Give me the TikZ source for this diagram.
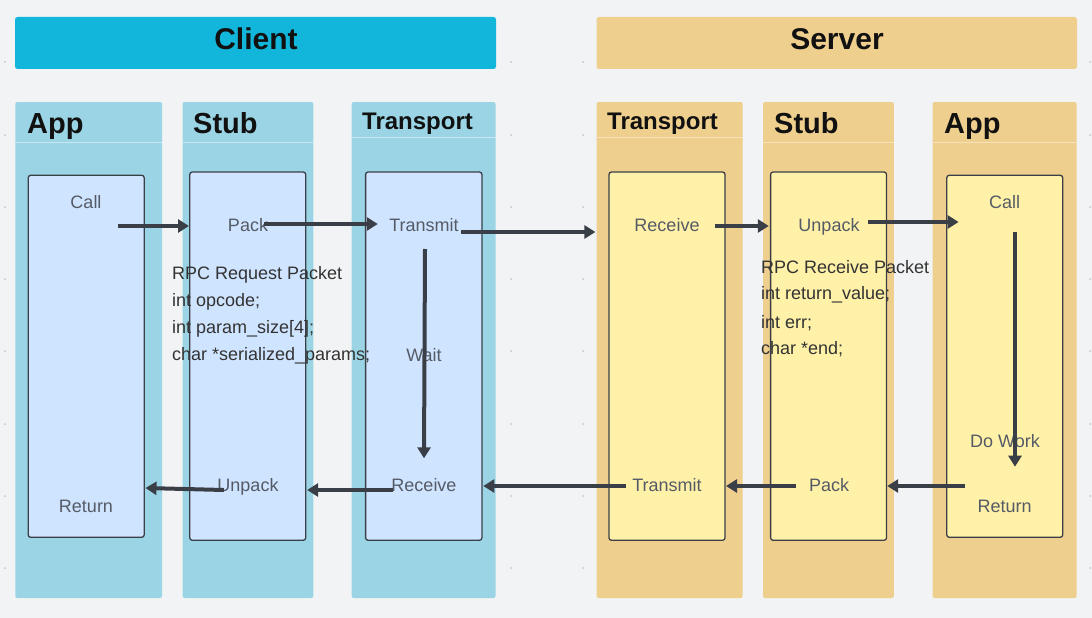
\documentclass[tikz,border=0pt]{standalone}
\usepackage{fontspec}
\setmainfont{Liberation Sans}
\usetikzlibrary{arrows.meta}
\definecolor{bg}{HTML}{F2F3F5}
\definecolor{chead}{HTML}{12B6DB}
\definecolor{clane}{HTML}{9BD5E5}
\definecolor{csep}{HTML}{C8E8F1}
\definecolor{cbox}{HTML}{CFE4FF}
\definecolor{shead}{HTML}{EFCF8E}
\definecolor{slane}{HTML}{EFCF8E}
\definecolor{ssep}{HTML}{F6E2BA}
\definecolor{sbox}{HTML}{FFF1A8}
\definecolor{boxline}{HTML}{3A3F47}
\definecolor{arrowc}{HTML}{3A3F47}
\definecolor{labelc}{HTML}{555B66}
\definecolor{codec}{HTML}{333333}
\definecolor{titlec}{HTML}{111111}
\definecolor{dotc}{HTML}{C3C7CD}
\begin{document}
\begin{tikzpicture}[x=1pt,y=-1pt,
  header/.style={rounded corners=2.5pt},
  lanebox/.style={rounded corners=2pt},
  sepline/.style={line width=1pt},
  innerbox/.style={draw=boxline,line width=1.3pt,rounded corners=2.5pt},
  htitle/.style={inner sep=0pt,anchor=base,text=titlec,font=\fontsize{30}{36}\selectfont\bfseries},
  ltitle/.style={inner sep=0pt,anchor=base west,text=titlec,font=\fontsize{29}{35}\selectfont\bfseries},
  ttitle/.style={inner sep=0pt,anchor=base west,text=titlec,font=\fontsize{24}{29}\selectfont\bfseries},
  lbl/.style={inner sep=0pt,anchor=base,text=labelc,font=\fontsize{18}{22}\selectfont},
  codeline/.style={inner sep=0pt,anchor=base west,text=codec,font=\fontsize{18}{22}\selectfont},
  flow/.style={draw=arrowc,line width=4pt,-{Triangle[length=11pt,width=13pt]}}
]
% background
\fill[bg] (0,0) rectangle (1092,618);
\useasboundingbox (0,0) rectangle (1092,618);
% grid dots
\foreach \gx in {5,511,583,1090}{
  \foreach \gy in {62,135,207,279,351,424,496,568}{
    \fill[dotc] (\gx,\gy) circle (1pt);
  }
}
% headers
\fill[chead,header] (15,17) rectangle (496,69);
\fill[shead,header] (596.5,17) rectangle (1077,69);
\node[htitle] (clienttitle) at (256,50) {Client};
\node[htitle] (servertitle) at (837,50) {Server};
% client lanes
\fill[clane,lanebox] (15.3,102) rectangle (162,598);
\fill[clane,lanebox] (182.5,102) rectangle (313.4,598);
\fill[clane,lanebox] (351.7,102) rectangle (495.5,598);
\draw[csep,sepline] (15.3,142) -- (162,142);
\draw[csep,sepline] (182.5,142) -- (313.4,142);
\draw[csep,sepline] (351.7,137) -- (495.5,137);
% server lanes
\fill[slane,lanebox] (596.5,102) rectangle (742.7,598);
\fill[slane,lanebox] (763,102) rectangle (893.8,598);
\fill[slane,lanebox] (932.5,102) rectangle (1076.6,598);
\draw[ssep,sepline] (596.5,137) -- (742.7,137);
\draw[ssep,sepline] (763,142) -- (893.8,142);
\draw[ssep,sepline] (932.5,142) -- (1076.6,142);
% lane titles
\node[ltitle] (capp) at (27,133.3) {App};
\node[ltitle] (cstub) at (193,133.3) {Stub};
\node[ttitle] (ctrans) at (362,129.3) {Transport};
\node[ttitle] (strans) at (607,129.3) {Transport};
\node[ltitle] (sstub) at (774,133.3) {Stub};
\node[ltitle] (sapp) at (944,133.3) {App};
% inner boxes
\draw[innerbox,fill=cbox] (28.2,175.3) rectangle (144.2,537.3);
\draw[innerbox,fill=cbox] (189.8,172) rectangle (305.7,540.3);
\draw[innerbox,fill=cbox] (365.6,172) rectangle (481.9,540.3);
\draw[innerbox,fill=sbox] (609,172) rectangle (725,540.3);
\draw[innerbox,fill=sbox] (770.6,172) rectangle (886.5,540.3);
\draw[innerbox,fill=sbox] (946.8,175.3) rectangle (1062.7,537.3);
% client labels
\node[lbl] (cCall) at (86,208.5) {Call};
\node[lbl] (cPack) at (248,231) {Pack};
\node[lbl] (cTransmit) at (424,231) {Transmit};
\node[lbl] (cWait) at (424,361.5) {Wait};
\node[lbl] (cReceive) at (424,491.5) {Receive};
\node[lbl] (cUnpack) at (248,491.5) {Unpack};
\node[lbl] (cReturn) at (86,512) {Return};
% server labels
\node[lbl] (sReceive) at (667,231) {Receive};
\node[lbl] (sUnpack) at (829,231) {Unpack};
\node[lbl] (sCall) at (1004.6,208.5) {Call};
\node[lbl] (sDoWork) at (1005,447) {Do Work};
\node[lbl] (sReturn) at (1004.6,512) {Return};
\node[lbl] (sPack) at (829,491.5) {Pack};
\node[lbl] (sTransmit) at (667,491.5) {Transmit};
% packet texts
\node[codeline] (rq1) at (172,279.2) {RPC Request Packet};
\node[codeline] (rq2) at (172,306.5) {int opcode;};
\node[codeline] (rq3) at (172,333.2) {int param\_size[4];};
\node[codeline] (rq4) at (172,360.5) {char *serialized\_params;};
\node[codeline] (rs1) at (761,273.2) {RPC Receive Packet};
\node[codeline] (rs2) at (761,299.8) {int return\_value;};
\node[codeline] (rs3) at (761,328.2) {int err;};
\node[codeline] (rs4) at (761,354.8) {char *end;};
% connector end points
\coordinate (a1s) at (118,226);   \coordinate (a1e) at (189,226);
\coordinate (a2s) at (263.6,224); \coordinate (a2e) at (377.8,224);
\coordinate (a3s) at (460.6,232); \coordinate (a3e) at (595.4,232);
\coordinate (a4s) at (714.9,226); \coordinate (a4e) at (768.8,226);
\coordinate (a5s) at (868,222); \coordinate (a5e) at (958.6,222);
\coordinate (a6s) at (1015,232); \coordinate (a6e) at (1015,466.7);
\coordinate (a7s) at (964.9,486); \coordinate (a7e) at (887.2,486);
\coordinate (a8s) at (795.7,486); \coordinate (a8e) at (726,486);
\coordinate (a9s) at (626,486); \coordinate (a9e) at (483.3,486);
\coordinate (a10s) at (392.8,490); \coordinate (a10e) at (307.1,490);
\coordinate (a11s) at (223.9,490); \coordinate (a11e) at (145.5,488);
\coordinate (a12s) at (425,249); \coordinate (a12e) at (424,458.3);
% connectors
\draw[flow] (a1s) -- (a1e);
\draw[flow] (a2s) -- (a2e);
\draw[flow] (a3s) -- (a3e);
\draw[flow] (a4s) -- (a4e);
\draw[flow] (a5s) -- (a5e);
\draw[flow] (a6s) -- (a6e);
\draw[flow] (a7s) -- (a7e);
\draw[flow] (a8s) -- (a8e);
\draw[flow] (a9s) -- (a9e);
\draw[flow] (a10s) -- (a10e);
\draw[flow] (a11s) -- (a11e);
\draw[flow] (a12s) -- (a12e);
\end{tikzpicture}
\end{document}
